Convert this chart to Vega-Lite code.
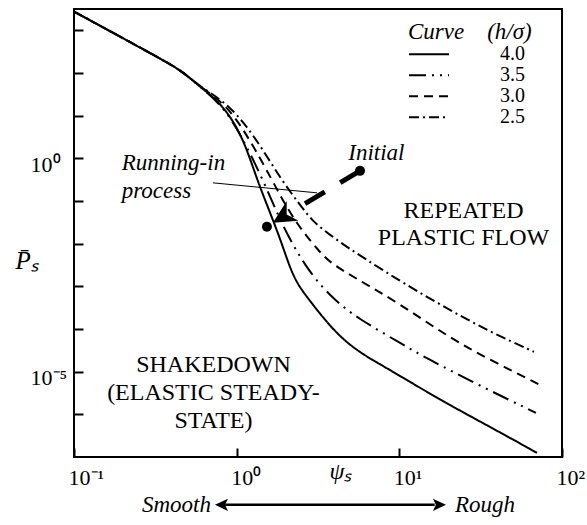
{
  "$schema": "https://vega.github.io/schema/vega-lite/v6.json",
  "width": 488,
  "height": 448,
  "autosize": {"type": "none"},
  "padding": {"left": 74, "top": 9, "right": 25, "bottom": 68},
  "background": "white",
  "config": {
    "view": {"stroke": "black", "strokeWidth": 2},
    "font": "Liberation Serif, Times New Roman, serif",
    "axis": {"grid": false, "domain": false, "tickColor": "black", "tickWidth": 2, "labelColor": "black", "titleColor": "black", "labelFont": "Liberation Serif, Times New Roman, serif", "titleFont": "Liberation Serif, Times New Roman, serif", "titleFontWeight": "normal"},
    "legend": {"labelOffset": 50}
  },
  "datasets": {
    "curves": [
      {"h": "4.0", "psi": 0.1, "P": 2754}, {"h": "4.0", "psi": 0.352, "P": 203}, {"h": "4.0", "psi": 0.468, "P": 106.4}, {"h": "4.0", "psi": 0.595, "P": 47.4},
      {"h": "4.0", "psi": 0.824, "P": 17.94}, {"h": "4.0", "psi": 1.093, "P": 3.19}, {"h": "4.0", "psi": 1.333, "P": 0.3133}, {"h": "4.0", "psi": 1.672, "P": 0.0362},
      {"h": "4.0", "psi": 1.926, "P": 0.00843}, {"h": "4.0", "psi": 2.126, "P": 0.002716}, {"h": "4.0", "psi": 2.381, "P": 0.001084}, {"h": "4.0", "psi": 2.705, "P": 0.000568},
      {"h": "4.0", "psi": 3.392, "P": 0.000183}, {"h": "4.0", "psi": 4.501, "P": 5.57e-5}, {"h": "4.0", "psi": 6.146, "P": 2.35e-5}, {"h": "4.0", "psi": 8.753, "P": 1.105e-5},
      {"h": "4.0", "psi": 17.77, "P": 2.19e-6}, {"h": "4.0", "psi": 36.06, "P": 5.1e-7}, {"h": "4.0", "psi": 70.11, "P": 1.254e-7},
      {"h": "3.5", "psi": 0.1, "P": 2754}, {"h": "3.5", "psi": 0.352, "P": 203}, {"h": "3.5", "psi": 0.468, "P": 106.4}, {"h": "3.5", "psi": 0.595, "P": 47.4},
      {"h": "3.5", "psi": 0.8475, "P": 15.26}, {"h": "3.5", "psi": 1.1245, "P": 2.308}, {"h": "3.5", "psi": 1.451, "P": 0.3133}, {"h": "3.5", "psi": 1.845, "P": 0.0362},
      {"h": "3.5", "psi": 2.218, "P": 0.00939}, {"h": "3.5", "psi": 2.63, "P": 0.00319}, {"h": "3.5", "psi": 3.251, "P": 0.001085}, {"h": "3.5", "psi": 4.02, "P": 0.000483},
      {"h": "3.5", "psi": 5.335, "P": 0.000193}, {"h": "3.5", "psi": 11.13, "P": 3.82e-5}, {"h": "3.5", "psi": 14.03, "P": 2.26e-5}, {"h": "3.5", "psi": 32.19, "P": 4.42e-6},
      {"h": "3.5", "psi": 69.13, "P": 1.085e-6},
      {"h": "3.0", "psi": 0.1, "P": 2754}, {"h": "3.0", "psi": 0.352, "P": 203}, {"h": "3.0", "psi": 0.468, "P": 106.4}, {"h": "3.0", "psi": 0.595, "P": 47.4},
      {"h": "3.0", "psi": 0.8718, "P": 17.94}, {"h": "3.0", "psi": 1.207, "P": 2.714}, {"h": "3.0", "psi": 1.648, "P": 0.3133}, {"h": "3.0", "psi": 2.067, "P": 0.0621},
      {"h": "3.0", "psi": 2.556, "P": 0.01895}, {"h": "3.0", "psi": 3.16, "P": 0.00717}, {"h": "3.0", "psi": 3.746, "P": 0.003556}, {"h": "3.0", "psi": 5.335, "P": 0.001583},
      {"h": "3.0", "psi": 10.09, "P": 0.000389}, {"h": "3.0", "psi": 19.89, "P": 6.56e-5}, {"h": "3.0", "psi": 36.06, "P": 1.895e-5}, {"h": "3.0", "psi": 73.13, "P": 4.92e-6},
      {"h": "2.5", "psi": 0.1, "P": 2754}, {"h": "2.5", "psi": 0.352, "P": 203}, {"h": "2.5", "psi": 0.468, "P": 106.4}, {"h": "2.5", "psi": 0.595, "P": 47.4},
      {"h": "2.5", "psi": 0.9095, "P": 17.94}, {"h": "2.5", "psi": 1.333, "P": 2.714}, {"h": "2.5", "psi": 1.845, "P": 0.349}, {"h": "2.5", "psi": 2.449, "P": 0.0813},
      {"h": "2.5", "psi": 2.944, "P": 0.0325}, {"h": "2.5", "psi": 3.746, "P": 0.01611}, {"h": "2.5", "psi": 4.831, "P": 0.00799}, {"h": "2.5", "psi": 6.323, "P": 0.004181},
      {"h": "2.5", "psi": 8.753, "P": 0.001861}, {"h": "2.5", "psi": 17.77, "P": 0.000369}, {"h": "2.5", "psi": 36.06, "P": 8.59e-5}, {"h": "2.5", "psi": 67.2, "P": 2.92e-5}
    ],
    "leader": [{"psi": 0.715, "P": 0.2666, "psi2": 3.115, "P2": 0.1554}],
    "path": [{"psi": 5.73, "P": 0.509, "psi2": 2.556, "P2": 0.0813}],
    "dots": [{"psi": 5.73, "P": 0.509}, {"psi": 1.535, "P": 0.0248}],
    "tip": [{"psi": 1.67, "P": 0.0308}],
    "scaleLine": [{"psi": 0.85, "P": 7.57e-9, "psi2": 16.5, "P2": 7.57e-9}],
    "headRight": [{"psi": 19.34, "P": 7.57e-9}],
    "headLeft": [{"psi": 0.7355, "P": 7.57e-9}],
    "italicLeft": [
      {"text": "Running-in", "psi": 0.1964, "P": 0.5377},
      {"text": "process", "psi": 0.1964, "P": 0.1186},
      {"text": "Initial", "psi": 4.853, "P": 0.922},
      {"text": "Rough", "psi": 21.96, "P": 5.19e-9}
    ],
    "italicRight": [{"text": "Smooth", "psi": 0.695, "P": 5.19e-9}],
    "regions": [
      {"text": "REPEATED", "psi": 24.8, "P": 0.04032},
      {"text": "PLASTIC FLOW", "psi": 24.8, "P": 0.00939},
      {"text": "SHAKEDOWN", "psi": 0.72, "P": 9.93e-6},
      {"text": "(ELASTIC STEADY-", "psi": 0.72, "P": 2.19e-6},
      {"text": "STATE)", "psi": 0.72, "P": 4.83e-7}
    ]
  },
  "encoding": {
    "x": {
      "field": "psi", "type": "quantitative",
      "scale": {"type": "log", "domain": [0.1, 100], "nice": false},
      "axis": {
        "values": [0.1, 1, 10, 100],
        "labelExpr": "datum.value < 0.5 ? '10⁻¹' : (datum.value < 5 ? '10⁰' : (datum.value < 50 ? '10¹' : '10²'))",
        "tickSize": -9, "labelPadding": 19, "labelFontSize": 22, "labelAlign": "left", "labelOffset": -6,
        "labelFlush": false, "labelOverlap": false,
        "title": "ψₛ", "titleFontStyle": "italic", "titleFontSize": 24, "titleX": 266, "titleY": 21, "titleBaseline": "alphabetic", "titleAlign": "center"
      }
    },
    "y": {
      "field": "P", "type": "quantitative",
      "scale": {"type": "log", "domain": [1e-7, 3162.28], "nice": false},
      "axis": {
        "values": [1e-6, 1e-5, 1e-4, 1e-3, 0.01, 0.1, 1, 10, 100, 1000],
        "labelExpr": "datum.value > 0.5 && datum.value < 2 ? '10⁰' : (datum.value > 5e-6 && datum.value < 2e-5 ? '10⁻⁵' : '')",
        "tickSize": -9, "labelPadding": 53, "labelAlign": "left", "labelBaseline": "middle", "labelFontSize": 22, "labelOffset": 6,
        "labelOverlap": false, "labelFlush": false,
        "title": "P̄ₛ", "titleAngle": 0, "titleX": -59, "titleY": 259, "titleAlign": "left", "titleBaseline": "alphabetic", "titleFontStyle": "italic", "titleFontSize": 25
      }
    }
  },
  "layer": [
    {
      "data": {"name": "curves"},
      "mark": {"type": "line", "color": "black", "strokeWidth": 2, "interpolate": "basis"},
      "encoding": {
        "strokeDash": {
          "field": "h", "type": "nominal",
          "scale": {"domain": ["4.0", "3.5", "3.0", "2.5"], "range": [[1, 0], [17, 6, 2, 6, 2, 6], [9, 6], [10, 4, 2, 4]]},
          "legend": {
            "title": "Curve\u00a0\u00a0\u00a0\u00a0(h/σ)",
            "orient": "none", "legendX": 334, "legendY": 12,
            "titleFont": "Liberation Serif, Times New Roman, serif", "titleFontStyle": "italic", "titleFontWeight": "normal", "titleFontSize": 23, "titleColor": "black",
            "labelFont": "Liberation Serif, Times New Roman, serif", "labelFontSize": 20, "labelColor": "black", "labelOffset": 50,
            "symbolType": "stroke", "symbolSize": 1600, "symbolStrokeColor": "black", "symbolStrokeWidth": 2,
            "clipHeight": 20.7, "rowPadding": 0, "titlePadding": 0, "padding": 0
          }
        }
      }
    },
    {
      "data": {"name": "leader"},
      "mark": {"type": "rule", "color": "black", "strokeWidth": 1},
      "encoding": {"x2": {"field": "psi2"}, "y2": {"field": "P2"}}
    },
    {
      "data": {"name": "path"},
      "mark": {"type": "rule", "color": "black", "strokeWidth": 5, "strokeDash": [23, 18], "strokeCap": "butt"},
      "encoding": {"x2": {"field": "psi2"}, "y2": {"field": "P2"}}
    },
    {
      "data": {"name": "dots"},
      "mark": {"type": "point", "shape": "circle", "filled": true, "color": "black", "size": 100, "opacity": 1},
      "encoding": {}
    },
    {
      "data": {"name": "tip"},
      "mark": {"type": "point", "shape": "M0,0L1,2L0,1.4L-1,2Z", "filled": true, "color": "black", "size": 529, "angle": 239, "opacity": 1},
      "encoding": {}
    },
    {
      "data": {"name": "scaleLine"},
      "mark": {"type": "rule", "color": "black", "strokeWidth": 2.5},
      "encoding": {"x2": {"field": "psi2"}, "y2": {"field": "P2"}}
    },
    {
      "data": {"name": "headRight"},
      "mark": {"type": "point", "shape": "M0,0L-2,-0.95L-1.55,0L-2,0.95Z", "filled": true, "color": "black", "size": 169, "angle": 0, "opacity": 1},
      "encoding": {}
    },
    {
      "data": {"name": "headLeft"},
      "mark": {"type": "point", "shape": "M0,0L-2,-0.95L-1.55,0L-2,0.95Z", "filled": true, "color": "black", "size": 169, "angle": 180, "opacity": 1},
      "encoding": {}
    },
    {
      "data": {"name": "italicLeft"},
      "mark": {"type": "text", "align": "left", "baseline": "alphabetic", "font": "Liberation Serif, Times New Roman, serif", "fontStyle": "italic", "fontSize": 23, "color": "black"},
      "encoding": {"text": {"field": "text"}}
    },
    {
      "data": {"name": "italicRight"},
      "mark": {"type": "text", "align": "right", "baseline": "alphabetic", "font": "Liberation Serif, Times New Roman, serif", "fontStyle": "italic", "fontSize": 23, "color": "black"},
      "encoding": {"text": {"field": "text"}}
    },
    {
      "data": {"name": "regions"},
      "mark": {"type": "text", "align": "center", "baseline": "alphabetic", "font": "Liberation Serif, Times New Roman, serif", "fontSize": 24, "color": "black"},
      "encoding": {"text": {"field": "text"}}
    }
  ]
}
